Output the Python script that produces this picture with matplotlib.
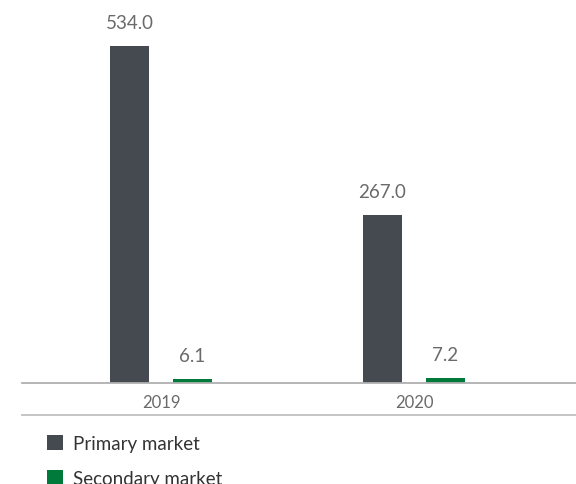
import numpy as np
import matplotlib
matplotlib.use("Agg")
import matplotlib.pyplot as plt
from matplotlib.lines import Line2D

# data
years = ["2019", "2020"]
primary = [534.0, 267.0]
secondary = [6.1, 7.2]
series_names = ["Primary market", "Secondary market"]

plt.rcParams['font.family'] = ['Lato', 'DejaVu Sans']

W, H = 576, 485
fig = plt.figure(figsize=(W / 100, H / 100), dpi=100)

# axes spans pixel x 22..576, y baseline at 384 up to top of figure
ax = fig.add_axes([22 / W, (H - 384) / H, (W - 22) / W, 384 / H])

x = np.arange(len(years))
width = 0.154
off = 0.1245
b1 = ax.bar(x - off, primary, width, color="#454a51", label=series_names[0])
b2 = ax.bar(x + off, secondary, width, color="#007a3b", label=series_names[1])

ax.set_xlim(-0.549, 1.64)
ax.set_ylim(0, 608.5)

for bars, vals in ((b1, primary), (b2, secondary)):
    for rect, v in zip(bars, vals):
        ax.annotate(f"{v:.1f}", (rect.get_x() + rect.get_width() / 2, v),
                    xytext=(0, 15), textcoords="offset pixels",
                    ha="center", va="bottom", fontsize=13.5, color="#6a6a6a")

for s in ("top", "right", "left"):
    ax.spines[s].set_visible(False)
ax.spines["bottom"].set_color("#b0b0b0")
ax.spines["bottom"].set_linewidth(1.3)
ax.set_yticks([])
ax.set_xticks(x)
ax.set_xticklabels(years, fontsize=12, color="#6a6a6a")
ax.tick_params(axis="x", length=0, pad=8)

# second rule under the year labels
fig.add_artist(Line2D([22 / W, 1], [(H - 416) / H] * 2, color="#c0c0c0", lw=1.3))

fig.legend(handles=[b1, b2], labels=series_names, loc="upper left",
           bbox_to_anchor=(47 / W, (H - 436) / H), frameon=False,
           borderpad=0, borderaxespad=0,
           fontsize=13.5, handlelength=0.85, handleheight=0.85,
           handletextpad=0.55, labelspacing=0.95, labelcolor="#333333")

fig.savefig("out.png", dpi=100)
